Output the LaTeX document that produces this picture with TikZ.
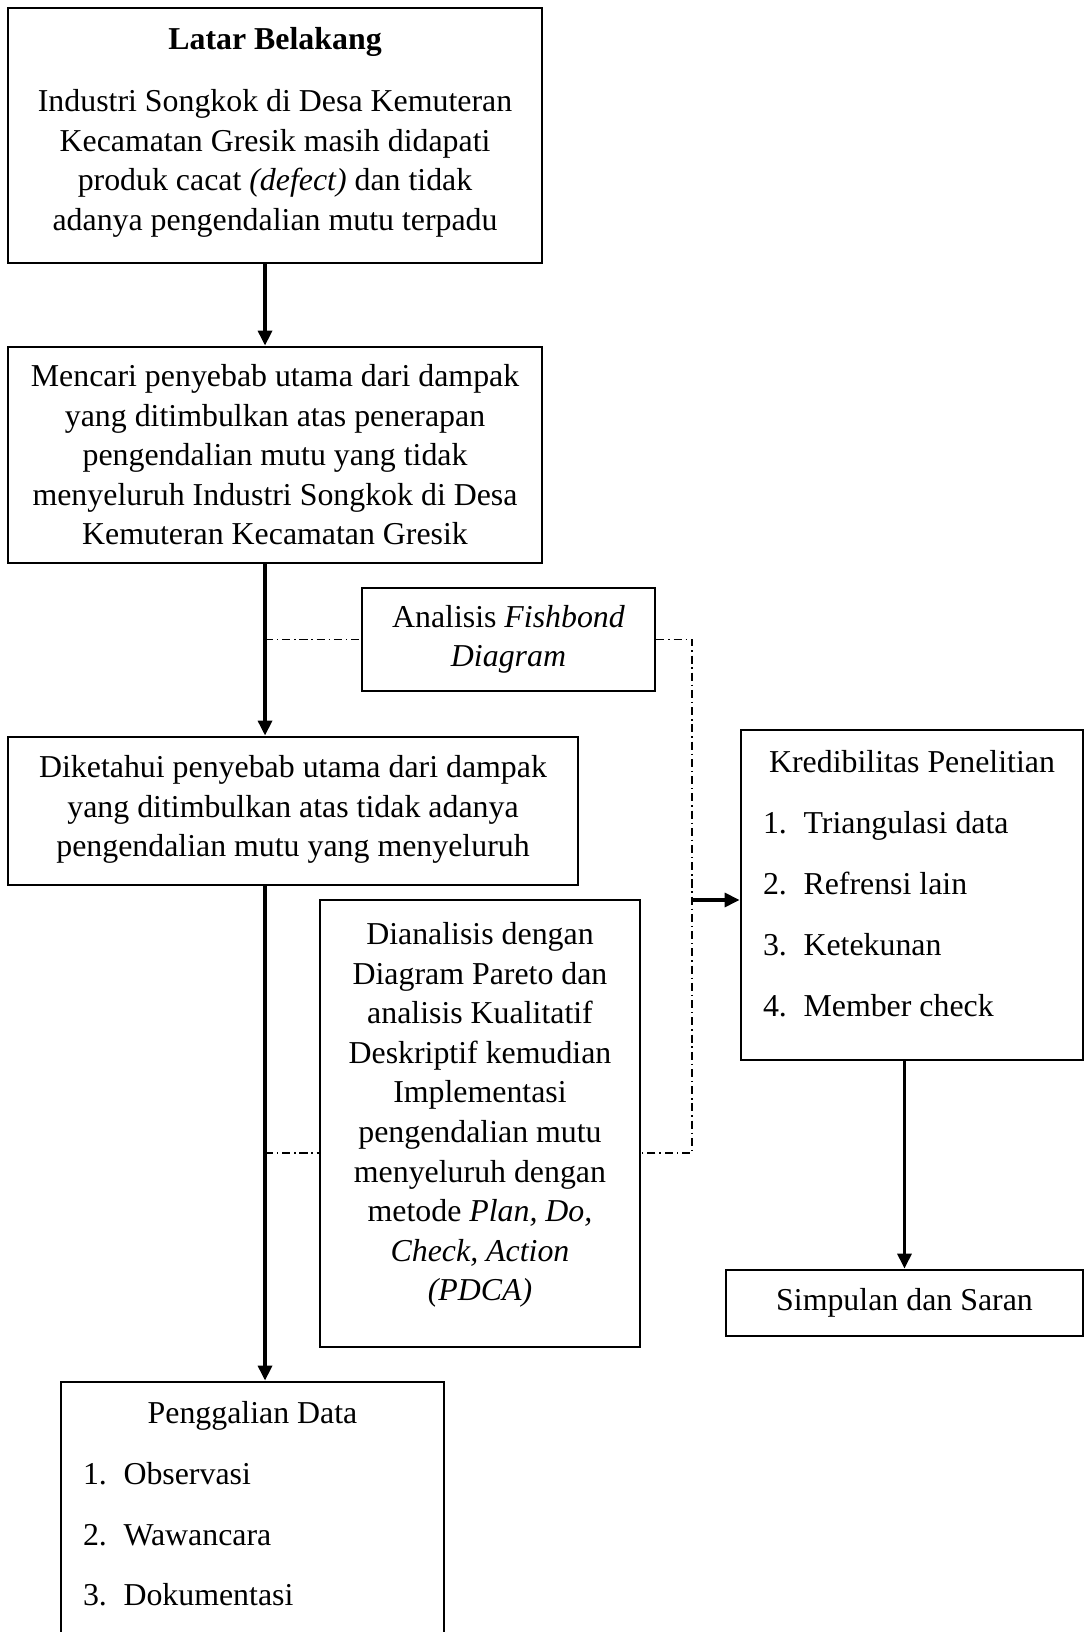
\documentclass[tikz,border=0pt]{standalone}
\usepackage{fontspec}
\setmainfont{Liberation Serif}
\usepackage{tikz}
\usetikzlibrary{positioning}
\usetikzlibrary{shapes,calc,arrows.meta}
\tikzset{
	box/.style = {rectangle, draw, line width=1.2pt, align=center, inner sep=0pt,
		font=\fontsize{13.87pt}{17.2pt}\selectfont},
	list box/.style = {box, align=left},
	flow/.style = {-{Triangle[length=6.5pt,width=6pt]}, line width=1.6pt},
	link/.style = {line width=0.6pt, dash pattern=on 3.5pt off 1.7pt on 0.6pt off 1.7pt},
}

\begin{document}
\begin{tikzpicture}
	\useasboundingbox (0,0) rectangle (16.616,-24.970);
               \node at(4.208,-2.073) (LatarBelakang) [box, minimum width=8.17cm, minimum height=3.902cm]
               {\textbf{Latar Belakang}\\[9.9pt]Industri Songkok di Desa Kemuteran\\Kecamatan Gresik masih didapati\\produk cacat \textit{(defect)} dan tidak\\adanya pengendalian mutu terpadu\rule[-6pt]{0pt}{0pt}};
               \node at(4.208,-6.962) (Mencari) [box, minimum width=8.17cm, minimum height=3.305cm]
               {Mencari penyebab utama dari dampak\\yang ditimbulkan atas penerapan\\pengendalian mutu yang tidak\\menyeluruh Industri Songkok di Desa\\Kemuteran Kecamatan Gresik};
               \node at(7.780,-9.784) (Fishbond) [box, minimum width=4.483cm, minimum height=1.576cm]
               {Analisis \textit{Fishbond}\\\textit{Diagram}};
               \node at(4.483,-12.408) (Diketahui) [box, minimum width=8.721cm, minimum height=2.264cm]
               {Diketahui penyebab utama dari dampak\\yang ditimbulkan atas tidak adanya\\pengendalian mutu yang menyeluruh\rule[-4.3pt]{0pt}{0pt}};
               \node at(7.344,-17.190) (Dianalisis) [box, minimum width=4.896cm, minimum height=6.839cm]
               {Dianalisis dengan\\Diagram Pareto dan\\analisis Kualitatif\\Deskriptif kemudian\\Implementasi\\pengendalian mutu\\menyeluruh dengan\\metode \textit{Plan, Do,}\\\textit{Check, Action}\\\textit{(PDCA)}\rule[-10.3pt]{0pt}{0pt}};
               \node at(13.954,-13.694) (Kredibilitas) [list box, minimum width=5.233cm, minimum height=5.049cm]
               {\makebox[5.233cm]{Kredibilitas Penelitian}\\[9.3pt]
               \hspace*{0.337cm}\makebox[0.62cm][l]{1.}Triangulasi data\\[9.3pt]
               \hspace*{0.337cm}\makebox[0.62cm][l]{2.}Refrensi lain\\[9.3pt]
               \hspace*{0.337cm}\makebox[0.62cm][l]{3.}Ketekunan\\[9.3pt]
               \hspace*{0.337cm}\makebox[0.62cm][l]{4.}Member check\rule[-10pt]{0pt}{0pt}};
               \node at(13.839,-19.936) (Simpulan) [box, minimum width=5.462cm, minimum height=1.010cm]
               {Simpulan dan Saran};
               \node at(3.863,-23.180) (Penggalian) [list box, minimum width=5.860cm, minimum height=4.070cm]
               {\makebox[5.860cm]{Penggalian Data}\\[9.3pt]
               \hspace*{0.337cm}\makebox[0.62cm][l]{1.}Observasi\\[9.3pt]
               \hspace*{0.337cm}\makebox[0.62cm][l]{2.}Wawancara\\[9.3pt]
               \hspace*{0.337cm}\makebox[0.62cm][l]{3.}Dokumentasi\rule[-10pt]{0pt}{0pt}};
               \coordinate (Spine) at (4.055,0);
               \coordinate (Rail) at (10.588,0);
               \coordinate (KredIn) at (0,-13.770);
               \coordinate (LowLink) at (0,-17.641);
                \draw[flow] (LatarBelakang.south -| Spine) -- (Mencari.north -| Spine);
                \draw[flow] (Mencari.south -| Spine) -- (Diketahui.north -| Spine);
                \draw[flow] (Diketahui.south -| Spine) -- (Penggalian.north -| Spine);
                \draw[link] (Spine |- Fishbond.west) -- (Fishbond.west);
                \draw[link] (Fishbond.east) -| (Rail |- LowLink) -- (Dianalisis.east |- LowLink);
                \draw[link] (Spine |- LowLink) -- (Dianalisis.west |- LowLink);
                \draw[flow] (Rail |- KredIn) -- (Kredibilitas.west |- KredIn);
                \draw[flow] (Kredibilitas.south -| Simpulan) -- (Simpulan.north);
        \end{tikzpicture}
\end{document}
